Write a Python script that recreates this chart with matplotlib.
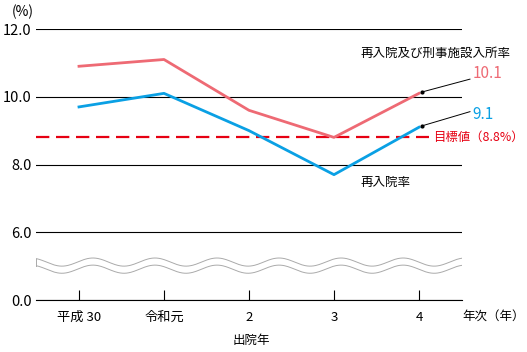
import numpy as np
import matplotlib.pyplot as plt

plt.rcParams['font.family'] = ['Noto Sans CJK JP', 'DejaVu Sans']

years = ['平成 30', '令和元', '2', '3', '4']
reentry_total = [10.9, 11.1, 9.6, 8.8, 10.1]   # 再入院及び刑事施設入所率
reentry_rate = [9.7, 10.1, 9.0, 7.7, 9.1]      # 再入院率
target = 8.8

ytick_vals = [4, 6, 8, 10, 12]    # 4 on the broken axis stands for 0.0
ytick_labels = ['0.0', '6.0', '8.0', '10.0', '12.0']

red = '#EE6A74'
blue = '#0AA0E4'
target_red = '#E60012'

fig = plt.figure(figsize=(5.27, 3.52), dpi=100)
ax = fig.add_axes([0.0683, 0.1477, 0.8083, 0.7699])

x = np.arange(len(years))
ax.set_xlim(-0.506, 4.506)
ax.set_ylim(4, 12)

ax.set_yticks(ytick_vals)
ax.set_yticklabels(ytick_labels, fontsize=10.5)
ax.yaxis.grid(True, color='black', lw=0.8)
ax.set_axisbelow(True)
ax.tick_params(axis='y', length=0, pad=3)

ax.set_xticks(x)
ax.set_xticklabels(years, fontsize=9.5)
ax.tick_params(axis='x', direction='in', length=7, width=0.8, pad=8)

for s in ['left', 'right', 'top']:
    ax.spines[s].set_visible(False)
ax.spines['bottom'].set_linewidth(0.8)

# broken-axis wave band
wx = np.linspace(-0.506, 4.506, 400)
phase = 2 * np.pi * (wx - (-0.506) + 0.06) / 0.73
up = 5.12 + 0.12 * np.cos(phase)
lo = 4.91 + 0.12 * np.cos(phase)
ax.fill_between(wx, lo, up, color='white', zorder=2)
ax.plot(wx, up, color='#aaaaaa', lw=0.7, zorder=3)
ax.plot(wx, lo, color='#aaaaaa', lw=0.7, zorder=3)
ax.plot([wx[0], wx[0]], [lo[0], up[0]], color='#aaaaaa', lw=0.7, zorder=3)
ax.plot([wx[-1], wx[-1]], [lo[-1], up[-1]], color='#aaaaaa', lw=0.7, zorder=3)

# target line
ax.plot([-0.506, 4.12], [target, target], color=target_red, lw=1.6,
        dashes=(6, 3), zorder=3)
ax.text(4.16, target, '目標値（8.8%）', color=target_red, fontsize=8.9,
        va='center', ha='left', clip_on=False)

ax.plot(x, reentry_total, color=red, lw=2, zorder=4)
ax.plot(x, reentry_rate, color=blue, lw=2, zorder=4)

ax.text(3.31, 11.27, '再入院及び刑事施設入所率', fontsize=9, ha='left', va='center')
ax.text(3.31, 7.47, '再入院率', fontsize=9, ha='left', va='center')

# leader lines and end values
for val, col, dy, ty in [(reentry_total[-1], red, 0.38, 10.68),
                         (reentry_rate[-1], blue, 0.42, 9.49)]:
    ax.plot([4.035, 4.6], [val + 0.04, val + 0.04 + dy], color='black',
            lw=0.7, clip_on=False, zorder=5)
    ax.plot([4.035], [val + 0.04], 'o', color='black', ms=2, zorder=5)
    ax.text(4.63, ty, f'{val:.1f}', color=col, fontsize=11,
            ha='left', va='center', clip_on=False)

fig.text(12 / 527, 1 - 12 / 352, '(%)', fontsize=10, ha='left', va='center')
fig.text(462 / 527, 1 - 316 / 352, '年次（年）', fontsize=9, ha='left', va='center')
fig.text(251 / 527, 1 - 340 / 352, '出院年', fontsize=9, ha='center', va='center')

fig.savefig('out.png', dpi=100)
